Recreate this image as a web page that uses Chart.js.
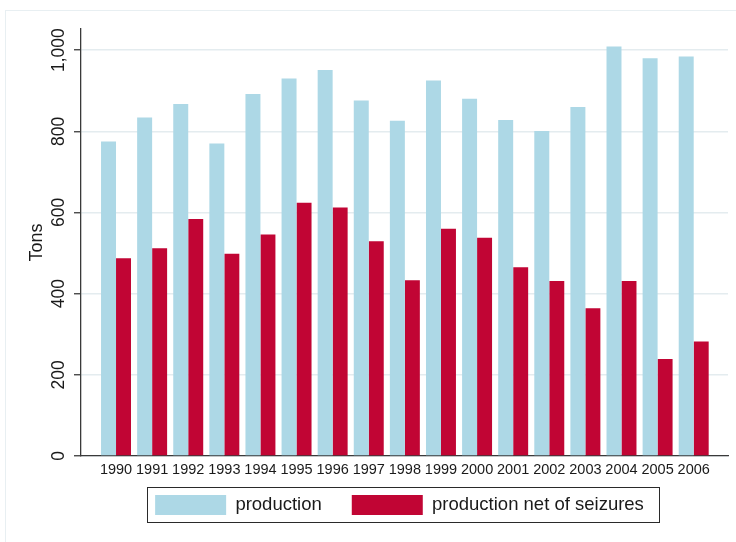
<!DOCTYPE html>
<html>
<head>
<meta charset="utf-8">
<script src="https://cdn.jsdelivr.net/npm/chart.js@4.4.1/dist/chart.umd.min.js"></script>
<style>
  html, body { margin: 0; padding: 0; background: #ffffff; }
  #wrap { width: 736px; height: 542px; position: relative; }
</style>
</head>
<body>
<div id="wrap"><canvas id="chart"></canvas></div>
<script>
// Opium production per year, in tons
const years = [1990, 1991, 1992, 1993, 1994, 1995, 1996, 1997, 1998,
               1999, 2000, 2001, 2002, 2003, 2004, 2005, 2006];
const production = [775, 834, 867, 770, 892, 930, 951, 876, 826,
                    925, 880, 828, 801, 860, 1009, 980, 984];
const netOfSeizures = [487, 512, 584, 498, 546, 624, 612, 529, 433,
                       560, 538, 465, 431, 364, 431, 239, 282];
const seriesNames = ['production', 'production net of seizures'];
const yAxisTitle = 'Tons';

const FONT = "'Liberation Sans', Arial, Helvetica, sans-serif";
const INK = '#1a1a1a';
const AXIS = '#3a3a3a';

const toPoints = vals => years.map((yr, i) => ({ x: yr, y: vals[i] }));

// light outer frame around the graph region
const outerFrame = {
  id: 'outerFrame',
  beforeDraw(chart) {
    const ctx = chart.ctx;
    ctx.save();
    ctx.strokeStyle = '#e8eff2';
    ctx.lineWidth = 1;
    ctx.strokeRect(5.5, 10.5, 800, 600);
    ctx.restore();
  }
};

// nudge the legend so it sits centred under the plot, close to the axis labels
const legendNudge = {
  id: 'legendNudge',
  afterLayout(chart) {
    const lg = chart.legend;
    if (!lg) return;
    lg.left -= 5;
    lg.right -= 5;
    lg.top -= 15;
    lg.bottom -= 15;
  }
};

// box drawn around the legend entries
const legendFrame = {
  id: 'legendFrame',
  afterDraw(chart) {
    const boxes = chart.legend && chart.legend.legendHitBoxes;
    if (!boxes || !boxes.length) return;
    const first = boxes[0];
    const last = boxes[boxes.length - 1];
    const left = Math.round(first.left - 8) + 0.5;
    const top = Math.round(first.top - 8) + 0.5;
    const right = Math.round(last.left + last.width + 15) + 0.5;
    const bottom = Math.round(first.top + first.height + 7) + 0.5;
    const ctx = chart.ctx;
    ctx.save();
    ctx.strokeStyle = '#2a2a2a';
    ctx.lineWidth = 1;
    ctx.strokeRect(left, top, right - left, bottom - top);
    ctx.restore();
  }
};

new Chart(document.getElementById('chart'), {
  type: 'bar',
  data: {
    datasets: [
      {
        label: seriesNames[0],
        data: toPoints(production),
        backgroundColor: '#add8e6',
        borderWidth: 0,
        categoryPercentage: 0.83,
        barPercentage: 1.0
      },
      {
        label: seriesNames[1],
        data: toPoints(netOfSeizures),
        backgroundColor: '#c10534',
        borderWidth: 0,
        categoryPercentage: 0.83,
        barPercentage: 1.0
      }
    ]
  },
  options: {
    responsive: true,
    maintainAspectRatio: false,
    animation: false,
    devicePixelRatio: 1,
    layout: { padding: { top: 29, left: 0, right: 8, bottom: 2 } },
    plugins: {
      legend: {
        position: 'bottom',
        fullSize: false,
        labels: {
          boxWidth: 71,
          boxHeight: 20,
          padding: 30,
          color: INK,
          font: { family: FONT, size: 18.5 }
        }
      },
      tooltip: { enabled: false }
    },
    scales: {
      x: {
        type: 'linear',
        min: 1989.03,
        max: 2006.95,
        offset: false,
        grid: { display: true, drawOnChartArea: false, drawTicks: false },
        border: { display: true, color: AXIS, width: 1.3 },
        ticks: {
          stepSize: 1,
          includeBounds: false,
          autoSkip: false,
          maxRotation: 0,
          minRotation: 0,
          padding: 5,
          color: INK,
          font: { family: FONT, size: 14.5 },
          callback: v => String(v)
        },
        afterFit: s => { s.height = 24; }
      },
      y: {
        min: 0,
        max: 1052,
        grid: {
          color: '#e4ecef',
          lineWidth: 1.5,
          tickColor: AXIS,
          tickLength: 7,
          tickWidth: 1.3
        },
        border: { display: true, color: AXIS, width: 1.3 },
        ticks: {
          stepSize: 200,
          includeBounds: false,
          minRotation: 90,
          maxRotation: 90,
          crossAlign: 'center',
          padding: -7,
          color: INK,
          font: { family: FONT, size: 17.5 },
          callback: v => v.toLocaleString('en-US')
        },
        title: {
          display: true,
          text: yAxisTitle,
          color: INK,
          font: { family: FONT, size: 18 },
          padding: { top: 26, bottom: 0 }
        },
        afterFit: s => { s.width = 81; }
      }
    }
  },
  plugins: [outerFrame, legendNudge, legendFrame]
});
</script>
</body>
</html>
